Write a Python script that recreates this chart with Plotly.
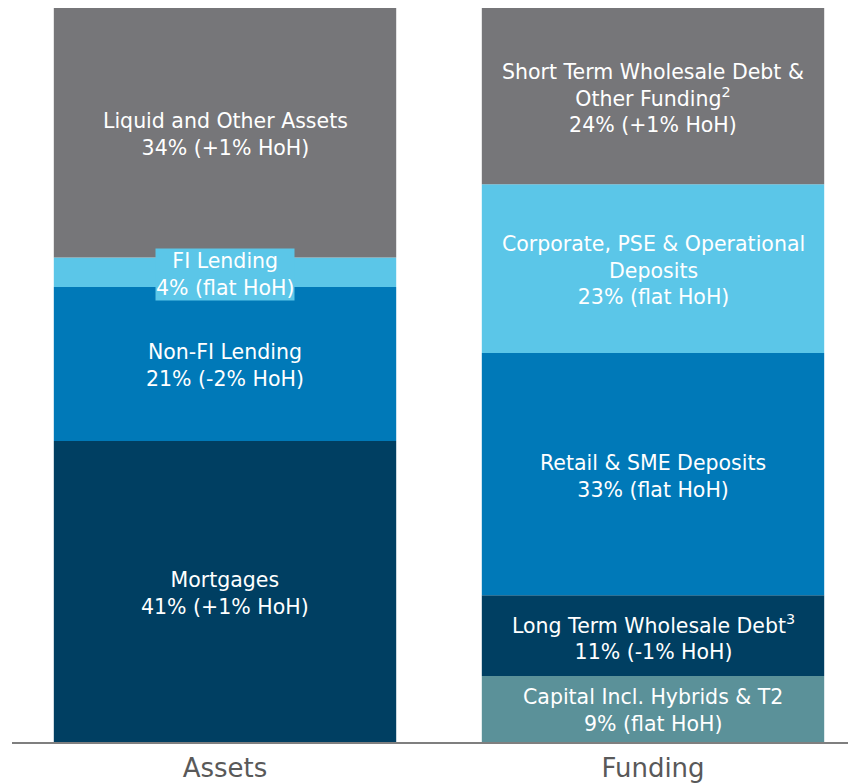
import plotly.graph_objects as go

categories = ["Assets", "Funding"]

assets_labels = ["Mortgages", "Non-FI Lending", "FI Lending", "Liquid and Other Assets"]
assets_values = [41, 21, 4, 34]
assets_changes = ["+1% HoH", "-2% HoH", "flat HoH", "+1% HoH"]

funding_labels = ["Capital Incl. Hybrids & T2", "Long Term Wholesale Debt<sup>3</sup>",
                  "Retail & SME Deposits", "Corporate, PSE & Operational<br>Deposits",
                  "Short Term Wholesale Debt &<br>Other Funding<sup>2</sup>"]
funding_values = [9, 11, 33, 23, 24]
funding_changes = ["flat HoH", "-1% HoH", "flat HoH", "flat HoH", "+1% HoH"]

assets_colors = ["#003f62", "#0079b8", "#5bc6e8", "#767679"]
funding_colors = ["#5b9199", "#003f62", "#0079b8", "#5bc6e8", "#767679"]

FONT = "DejaVu Sans"
fig = go.Figure()
annotations = []

def add_stack(xpos, labels, values, changes, colors, boxed=None):
    base = 0
    for lab, v, ch, col in zip(labels, values, changes, colors):
        fig.add_trace(go.Bar(x=[xpos], y=[v], base=[base], marker=dict(color=col, line=dict(width=0)),
                             width=0.8, showlegend=False, hoverinfo="skip"))
        ann = dict(x=xpos, y=base + v / 2, xref="x", yref="y", yshift=-2,
                   text=f"{lab}<br>{v}% ({ch})", showarrow=False,
                   font=dict(family=FONT, size=20.5, color="white"), align="center")
        if boxed == lab:
            ann.update(bgcolor=col, borderpad=0)
        annotations.append(ann)
        base += v

add_stack(0, assets_labels, assets_values, assets_changes, assets_colors, boxed="FI Lending")
add_stack(1, funding_labels, funding_values, funding_changes, funding_colors)

# page body adds an 8px offset; figure sized to fill the remaining window
fig.update_layout(
    width=848, height=776,
    margin=dict(l=4, r=0, t=0, b=42),
    paper_bgcolor="white", plot_bgcolor="white",
    barmode="overlay",
    annotations=annotations,
    xaxis=dict(range=[-0.4977, 1.4743], tickvals=[0, 1], ticktext=categories,
               tickfont=dict(family=FONT, size=26, color="#595959"),
               showgrid=False, zeroline=False, showline=True, linecolor="#7f7f7f", linewidth=2,
               ticks="", ticklabelstandoff=2),
    yaxis=dict(range=[0, 100], visible=False, showgrid=False, zeroline=False),
)

fig.write_html("out.html")
